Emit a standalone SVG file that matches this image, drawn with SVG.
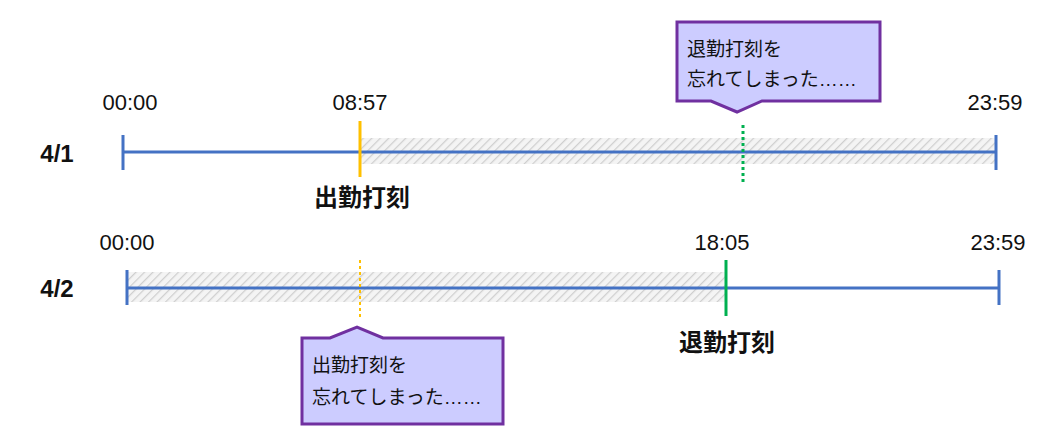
<svg xmlns="http://www.w3.org/2000/svg" width="1048" height="438" viewBox="0 0 1048 438">
<defs>
<pattern id="hatch" width="6" height="6" patternUnits="userSpaceOnUse" patternTransform="rotate(45)">
<rect width="6" height="6" fill="#f4f4f4"/><line x1="0" y1="0" x2="0" y2="6" stroke="#cfcfcf" stroke-width="2.5"/>
</pattern>
<style>
text{font-family:"Liberation Sans","Noto Sans CJK JP",sans-serif;fill:#111}
.t{font-size:22px;text-anchor:middle}
.b{font-size:24px;font-weight:bold;text-anchor:middle}
.c{font-size:19px}
.axis{stroke:#4472c4;stroke-width:3;fill:none}
.call{fill:#ccccff;stroke:#7030a0;stroke-width:3}
</style>
</defs>
<g id="row1">
<rect x="360" y="138" width="636" height="26" fill="url(#hatch)"/>
<path class="axis" d="M123 152H996M123 135V170M996 135V170"/>
<line x1="360" y1="121" x2="360" y2="177" stroke="#ffc000" stroke-width="3"/>
<line x1="743" y1="125" x2="743" y2="183" stroke="#00b050" stroke-width="3" stroke-dasharray="3,3"/>
<text class="b" x="57" y="162">4/1</text>
<text class="t" x="130" y="110">00:00</text>
<text class="t" x="360" y="110">08:57</text>
<text class="t" x="995" y="110">23:59</text>
<text class="b" x="362" y="206">出勤打刻</text>
</g>
<g id="row2">
<rect x="127" y="272" width="599" height="30" fill="url(#hatch)"/>
<path class="axis" d="M127 288H999M127 270V305M999 270V305"/>
<line x1="360" y1="260" x2="360" y2="318" stroke="#ffc000" stroke-width="2" stroke-dasharray="3,3"/>
<line x1="726" y1="260" x2="726" y2="316" stroke="#00b050" stroke-width="3"/>
<text class="b" x="57" y="297">4/2</text>
<text class="t" x="127" y="250">00:00</text>
<text class="t" x="722" y="250">18:05</text>
<text class="t" x="998" y="250">23:59</text>
<text class="b" x="727" y="351">退勤打刻</text>
</g>
<g id="callout1">
<path class="call" d="M677 22H880V101H762L737 112L711 101H677Z"/>
<text class="c" x="687" y="56">退勤打刻を</text>
<text class="c" x="687" y="86">忘れてしまった……</text>
</g>
<g id="callout2">
<path class="call" d="M302 338H330L357 327L383 338H503V424H302Z"/>
<text class="c" x="312" y="372">出勤打刻を</text>
<text class="c" x="312" y="404">忘れてしまった……</text>
</g>
<g id="connectors"/>
</svg>
